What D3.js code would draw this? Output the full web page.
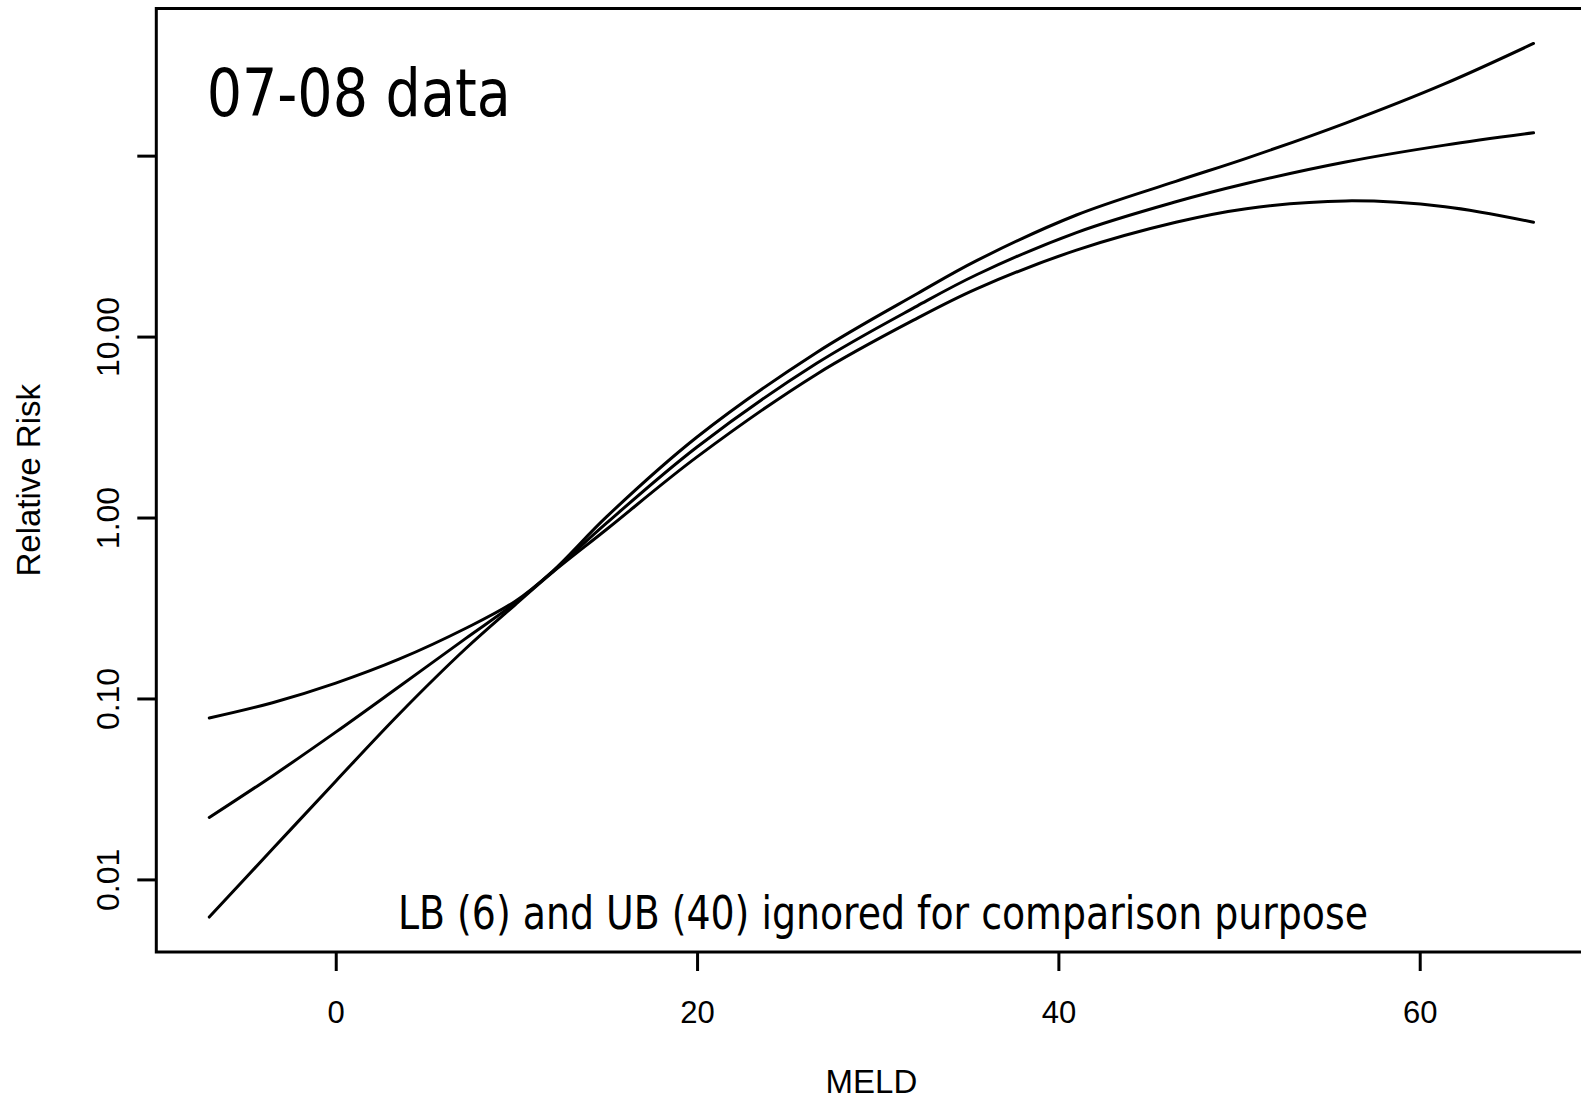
<!DOCTYPE html>
<html>
<head>
<meta charset="utf-8">
<script src="https://cdn.jsdelivr.net/npm/d3@7"></script>
<style>
  html, body { margin: 0; padding: 0; background: #fff; }
  svg { display: block; }
</style>
</head>
<body>
<svg id="chart" width="1581" height="1100"></svg>
<script>
// MELD score grid at which the spline fit was evaluated
const meld = [-7, -3.5, 0, 3.5, 7.2, 9.9, 12, 15, 20, 26.6, 32.2, 35.5, 41, 46.5, 50.4, 55.9, 61.4, 66.3];
// Fitted relative risk and its confidence bounds
const rrFit   = [0.02198, 0.03733, 0.06516, 0.1161, 0.2148, 0.3350, 0.5012, 0.9333, 2.455, 7.096, 14.79, 22.03, 37.58, 55.59, 70.15, 92.26, 114.3, 133.7];
const rrUpper = [0.07798, 0.09473, 0.1216, 0.1648, 0.2443, 0.3428, 0.5047, 1.0116, 2.786, 8.147, 17.30, 26.36, 46.99, 72.11, 96.61, 151.4, 250.0, 416.9];
const rrLower = [0.006194, 0.014712, 0.03491, 0.08185, 0.1888, 0.3273, 0.4977, 0.8610, 2.163, 6.180, 12.65, 18.41, 30.06, 42.85, 50.93, 56.23, 52.24, 42.85];

const xTicks = [0, 20, 40, 60];
const yTicks = [0.01, 0.1, 1, 10, 100];
const yTickLabels = ["0.01", "0.10", "1.00", "10.00", ""];

const svg = d3.select("#chart");

// plot region (right edge sits just past the visible canvas)
const plot = { left: 156.3, right: 1586.5, top: 8.5, bottom: 952 };

// R-style 4% padding of the data range
function padded(lo, hi) { const d = (hi - lo) * 0.04; return [lo - d, hi + d]; }

const xExt = d3.extent(meld);
const allY = rrFit.concat(rrUpper, rrLower);
const yLogExt = d3.extent(allY).map(Math.log10);
const yDomLog = padded(yLogExt[0], yLogExt[1]);

const x = d3.scaleLinear().domain(padded(xExt[0], xExt[1])).range([plot.left, plot.right]);
const y = d3.scaleLog().domain([Math.pow(10, yDomLog[0]), Math.pow(10, yDomLog[1])]).range([plot.bottom, plot.top]);

const line = d3.line()
  .x(d => x(d[0]))
  .y(d => y(d[1]))
  .curve(d3.curveCatmullRom.alpha(0.5));

[rrUpper, rrFit, rrLower].forEach(series => {
  svg.append("path")
    .attr("d", line(meld.map((m, i) => [m, series[i]])))
    .attr("fill", "none")
    .attr("stroke", "#000")
    .attr("stroke-width", 3)
    .attr("stroke-linecap", "round")
    .attr("stroke-linejoin", "round");
});

// frame around the plot region
svg.append("rect")
  .attr("x", plot.left).attr("y", plot.top)
  .attr("width", plot.right - plot.left).attr("height", plot.bottom - plot.top)
  .attr("fill", "none").attr("stroke", "#000").attr("stroke-width", 3);

const sans = "Liberation Sans, Arial, sans-serif";

// x axis
const gx = svg.append("g")
  .attr("transform", `translate(0,${plot.bottom})`)
  .call(d3.axisBottom(x).tickValues(xTicks).tickSize(19).tickPadding(30).tickFormat(d3.format("d")));
gx.select(".domain").remove();
gx.selectAll("line").attr("stroke", "#000").attr("stroke-width", 3);
gx.selectAll("text").attr("font-family", sans).attr("font-size", 31).attr("fill", "#000");

// y axis with labels turned parallel to the axis
const gy = svg.append("g")
  .attr("transform", `translate(${plot.left},0)`)
  .call(d3.axisLeft(y).tickValues(yTicks).tickSize(19).tickFormat((d, i) => yTickLabels[i]));
gy.select(".domain").remove();
gy.selectAll("line").attr("stroke", "#000").attr("stroke-width", 3);
gy.selectAll("text")
  .attr("transform", "rotate(-90)")
  .attr("x", 0).attr("y", -37).attr("dy", null)
  .attr("text-anchor", "middle")
  .attr("font-family", sans).attr("font-size", 32).attr("fill", "#000");

// axis titles
svg.append("text")
  .attr("x", (plot.left + plot.right) / 2).attr("y", 1093)
  .attr("text-anchor", "middle")
  .attr("font-family", sans).attr("font-size", 33)
  .text("MELD");

svg.append("text")
  .attr("transform", `translate(40,${(plot.top + plot.bottom) / 2}) rotate(-90)`)
  .attr("text-anchor", "middle")
  .attr("font-family", sans).attr("font-size", 33)
  .text("Relative Risk");

// annotations
svg.append("text")
  .attr("x", 206.7).attr("y", 116)
  .attr("font-family", "DejaVu Sans Condensed, DejaVu Sans, sans-serif").attr("font-size", 65)
  .attr("textLength", 304).attr("lengthAdjust", "spacingAndGlyphs")
  .text("07-08 data");

svg.append("text")
  .attr("x", 398).attr("y", 928.6)
  .attr("font-family", "DejaVu Sans Condensed, DejaVu Sans, sans-serif").attr("font-size", 47)
  .attr("textLength", 970).attr("lengthAdjust", "spacingAndGlyphs")
  .text("LB (6) and UB (40) ignored for comparison purpose");
</script>
</body>
</html>
